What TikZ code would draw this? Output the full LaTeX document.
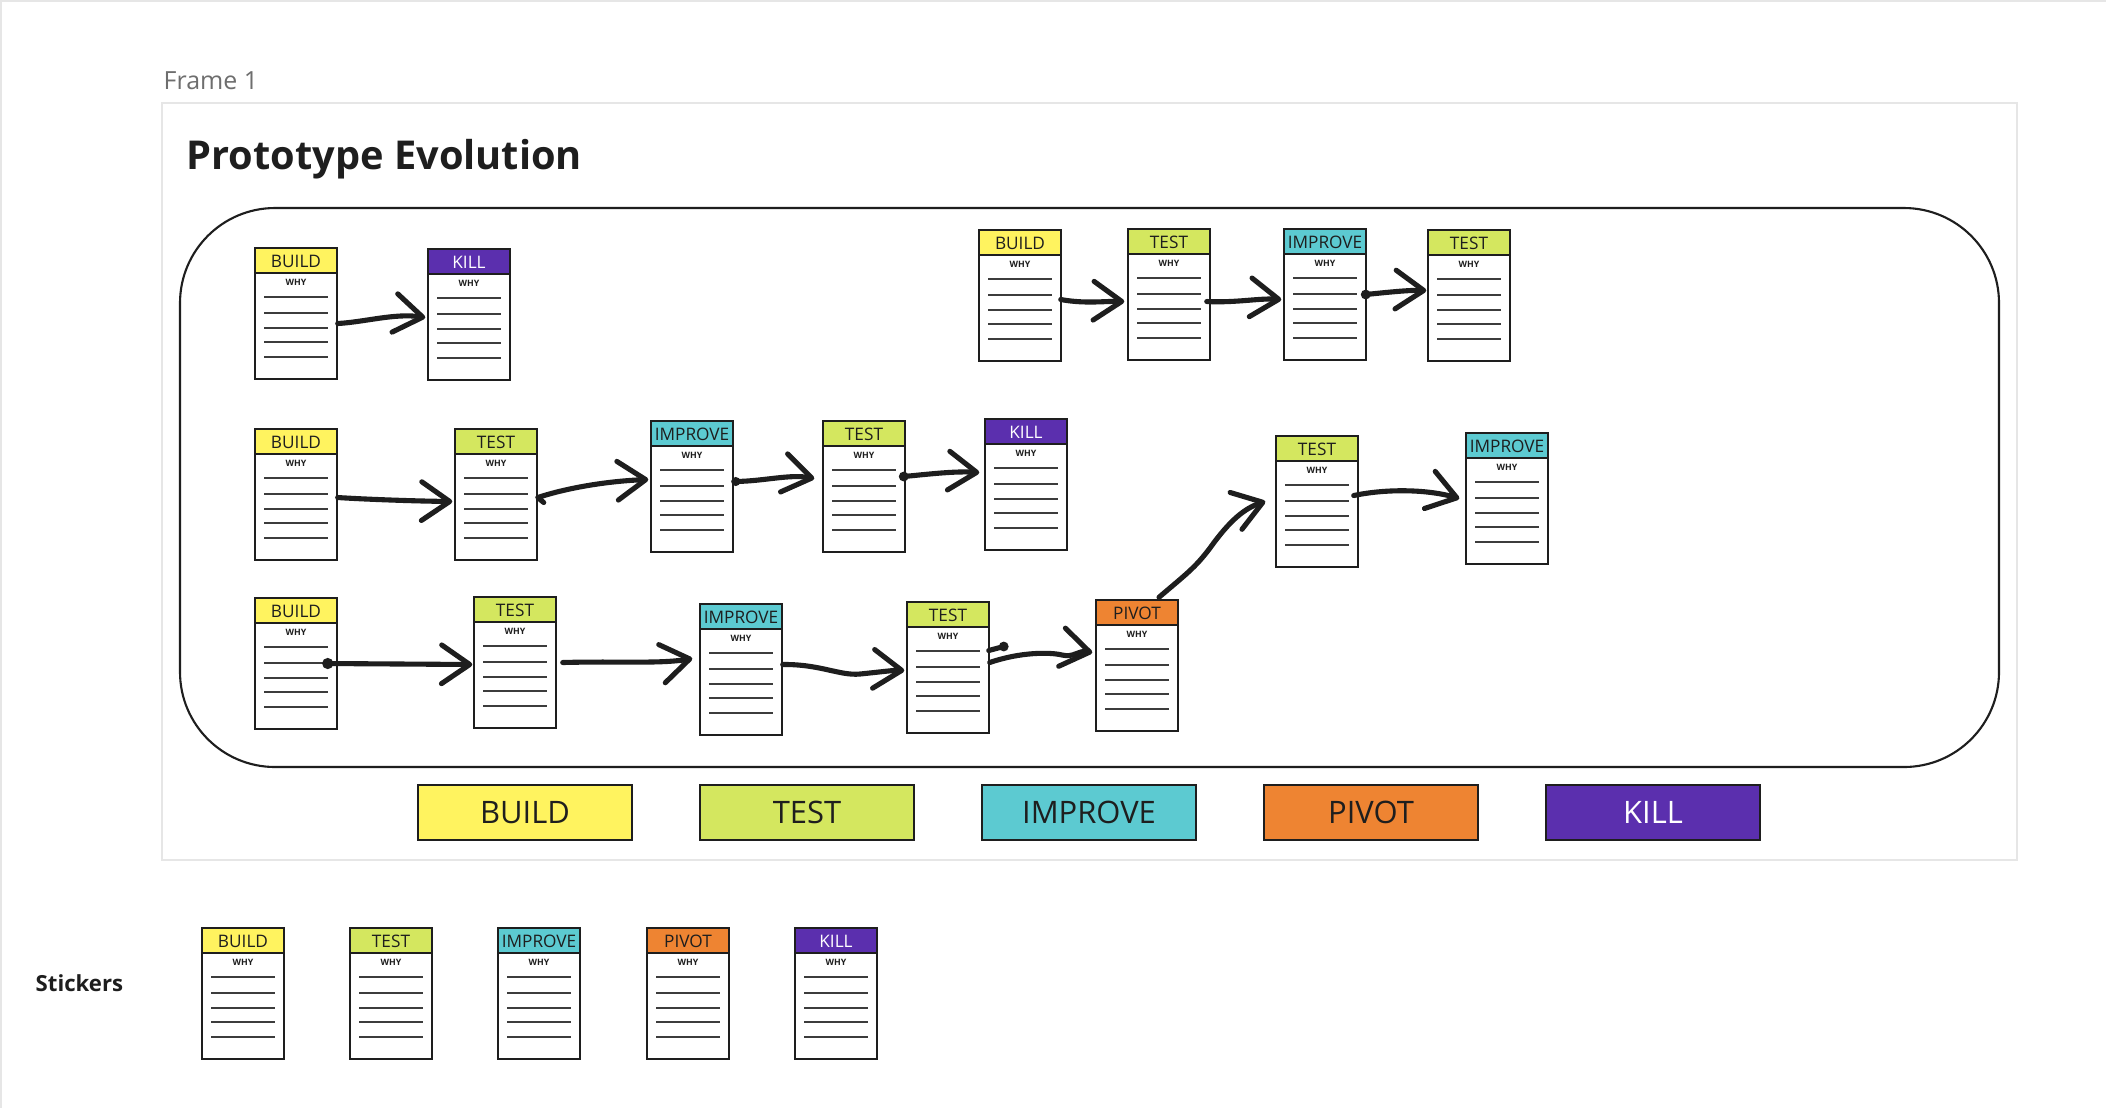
\documentclass[tikz,border=0pt]{standalone}
\usepackage{fontspec}
\setmainfont{Open Sans}
\usetikzlibrary{calc,arrows.meta}
\definecolor{cbuild}{HTML}{FFF35F}
\definecolor{ctest}{HTML}{D4E75F}
\definecolor{cimprove}{HTML}{5CCAD1}
\definecolor{cpivot}{HTML}{EE8432}
\definecolor{ckill}{HTML}{5B2FAE}
\definecolor{ink}{HTML}{1E1E1E}
\definecolor{rulegray}{HTML}{3C3C3C}
\definecolor{framegray}{HTML}{E6E6E6}
\definecolor{labelgray}{HTML}{6E6E6E}
\tikzset{
  cardbody/.style={minimum width=0.82cm, minimum height=1.31cm, inner sep=0pt, fill=white},
  cardedge/.style={draw=ink, line width=0.75pt},
  ruled/.style={draw=rulegray, line width=0.45pt},
  hdr/.style={inner sep=0pt, font=\fontsize{4.9pt}{5pt}\selectfont},
  whytext/.style={inner sep=0pt, text=ink, font=\bfseries\fontsize{2.5pt}{3pt}\selectfont},
  conn/.style={draw=ink, line width=1.45pt, line cap=round, line join=round,
    -{Straight Barb[length=8pt,width=11pt,round]}},
  stroke/.style={draw=ink, line width=1.45pt, line cap=round, line join=round},
  blob/.style={fill=ink},
  legend/.style={minimum width=2.14cm, minimum height=0.55cm, inner sep=0pt, draw=ink,
    line width=0.75pt, font=\fontsize{8.8pt}{9pt}\selectfont},
}
\newcommand\card[6]{%
  \begin{scope}[shift={(#2,#3)}]
    \node[cardbody] (#1) at (41,65.5) {};
    \fill[#4] (0,0) rectangle (82,25);
    \node[hdr,text=#6] at (41,13) {#5};
    \node[whytext] at (41,34) {WHY};
    \foreach \yy in {49,65,80,94,109}{\draw[ruled] (9,\yy) -- (73,\yy);}
    \draw[cardedge] (0,25) -- (82,25);
    \draw[cardedge] (0,0) rectangle (82,131);
  \end{scope}}
\begin{document}
\begin{tikzpicture}[x=0.01cm,y=-0.01cm]
\useasboundingbox (0,0) rectangle (2106,1108);
\fill[white] (0,0) rectangle (2106,1108);
% canvas edge
\draw[framegray, line width=0.9pt] (0,1108) -- (0,0) -- (2106,0);
% frame
\draw[framegray, line width=0.6pt] (162,103) rectangle (2017,860);
\node[anchor=base west, inner sep=0pt, text=labelgray, font=\fontsize{7.1pt}{8pt}\selectfont] (frametitle) at (163,89) {Frame 1};
\node[anchor=base west, inner sep=0pt, text=ink, font=\bfseries\fontsize{11.3pt}{12pt}\selectfont] (title) at (186,169) {Prototype Evolution};
% container
\draw[ink, line width=0.6pt, rounded corners=0.95cm] (180,208) rectangle (1999,767);

% ---- cards row 1
\card{b11}{255}{248}{cbuild}{BUILD}{ink}
\card{k11}{428}{249}{ckill}{KILL}{white}
\card{r1b}{979}{230}{cbuild}{BUILD}{ink}
\card{r1t}{1128}{229}{ctest}{TEST}{ink}
\card{r1i}{1284}{229}{cimprove}{IMPROVE}{ink}
\card{r1u}{1428}{230}{ctest}{TEST}{ink}
% ---- row 2
\card{b21}{255}{429}{cbuild}{BUILD}{ink}
\card{t21}{455}{429}{ctest}{TEST}{ink}
\card{i21}{651}{421}{cimprove}{IMPROVE}{ink}
\card{t22}{823}{421}{ctest}{TEST}{ink}
\card{k21}{985}{419}{ckill}{KILL}{white}
\card{t23}{1276}{436}{ctest}{TEST}{ink}
\card{i22}{1466}{433}{cimprove}{IMPROVE}{ink}
% ---- row 3
\card{b31}{255}{598}{cbuild}{BUILD}{ink}
\card{t31}{474}{597}{ctest}{TEST}{ink}
\card{i31}{700}{604}{cimprove}{IMPROVE}{ink}
\card{t32}{907}{602}{ctest}{TEST}{ink}
\card{p31}{1096}{600}{cpivot}{PIVOT}{ink}

% ---- connectors row 1
\draw[conn] ($(b11.east)+(0,10)$) .. controls (365,322) and (395,313) .. ($(k11.west)+(-2,3)$);
\draw[conn] ($(r1b.east)+(-1,4)$) .. controls (1085,304) and (1105,301) .. ($(r1t.west)+(-3,7)$);
\draw[conn] ($(r1t.east)+(-4,7)$) .. controls (1235,303) and (1260,298) .. ($(r1i.west)+(-2,5)$);
\fill[blob] ($(r1i.east)+(-1,0)$) circle[radius=1.4pt];
\draw[conn] ($(r1i.east)+(-1,0)$) .. controls (1390,292) and (1410,290) .. ($(r1u.west)+(-1,-5)$);
% ---- connectors row 2
\draw[conn] ($(b21.east)+(0,3)$) .. controls (360,499) and (410,501) .. ($(t21.west)+(-2,7)$);
\draw[conn] ($(t21.east)+(6,8)$) -- ($(t21.east)+(0,3)$) .. controls (570,487) and (610,481) .. ($(i21.west)+(-2,-7)$);
\fill[blob] ($(i21.east)+(2,-5)$) circle[radius=1.3pt];
\draw[conn] ($(i21.east)+(2,-5)$) .. controls (765,481) and (790,474) .. ($(t22.west)+(-8,-8)$);
\fill[blob] ($(t22.east)+(-2,-10)$) circle[radius=1.4pt];
\draw[conn] ($(t22.east)+(-2,-10)$) .. controls (930,474) and (955,471) .. ($(k21.west)+(-5,-12)$);
\draw[conn] ($(t23.east)+(-5,-6)$) .. controls (1390,488) and (1430,490) .. ($(i22.west)+(-6,0)$);
% ---- connectors row 3
\fill[blob] ($(b31.east)+(-10,0)$) circle[radius=1.6pt];
\draw[conn] ($(b31.east)+(-10,0)$) -- ($(t31.west)+(-1,2)$);
\draw[conn] ($(t31.east)+(6,0)$) .. controls (620,661) and (660,664) .. ($(i31.west)+(-7,-11)$);
\draw[conn] ($(i31.east)+(0,-5)$) .. controls (820,664) and (840,676) .. (860,674) .. controls (880,672) and (895,670) .. ($(t32.west)+(-2,3)$);
\draw[stroke] ($(t32.east)+(-1,-17)$) -- ($(t32.east)+(14,-21)$);
\fill[blob] ($(t32.east)+(14,-21)$) circle[radius=1.4pt];
\draw[conn] ($(t32.east)+(0,-5)$) .. controls (1020,652) and (1050,652) .. (1062,655) .. controls (1074,658) and (1078,650) .. ($(p31.west)+(-3,-13)$);
\draw[conn] ($(p31.north)+(22,-2)$) .. controls (1185,575) and (1195,568) .. (1210,548) .. controls (1230,520) and (1245,508) .. ($(t23.west)+(-10,0)$);

% ---- legend
\node[legend, fill=cbuild, text=ink] (lgb) at (525,812.5) {BUILD};
\node[legend, fill=ctest, text=ink] (lgt) at (807,812.5) {TEST};
\node[legend, fill=cimprove, text=ink] (lgi) at (1089,812.5) {IMPROVE};
\node[legend, fill=cpivot, text=ink] (lgp) at (1371,812.5) {PIVOT};
\node[legend, fill=ckill, text=white] (lgk) at (1653,812.5) {KILL};

% ---- stickers
\node[anchor=base west, inner sep=0pt, text=ink, font=\bfseries\fontsize{6.3pt}{7pt}\selectfont] (stk) at (35,991) {Stickers};
\card{s1}{202}{928}{cbuild}{BUILD}{ink}
\card{s2}{350}{928}{ctest}{TEST}{ink}
\card{s3}{498}{928}{cimprove}{IMPROVE}{ink}
\card{s4}{647}{928}{cpivot}{PIVOT}{ink}
\card{s5}{795}{928}{ckill}{KILL}{white}
\end{tikzpicture}
\end{document}
